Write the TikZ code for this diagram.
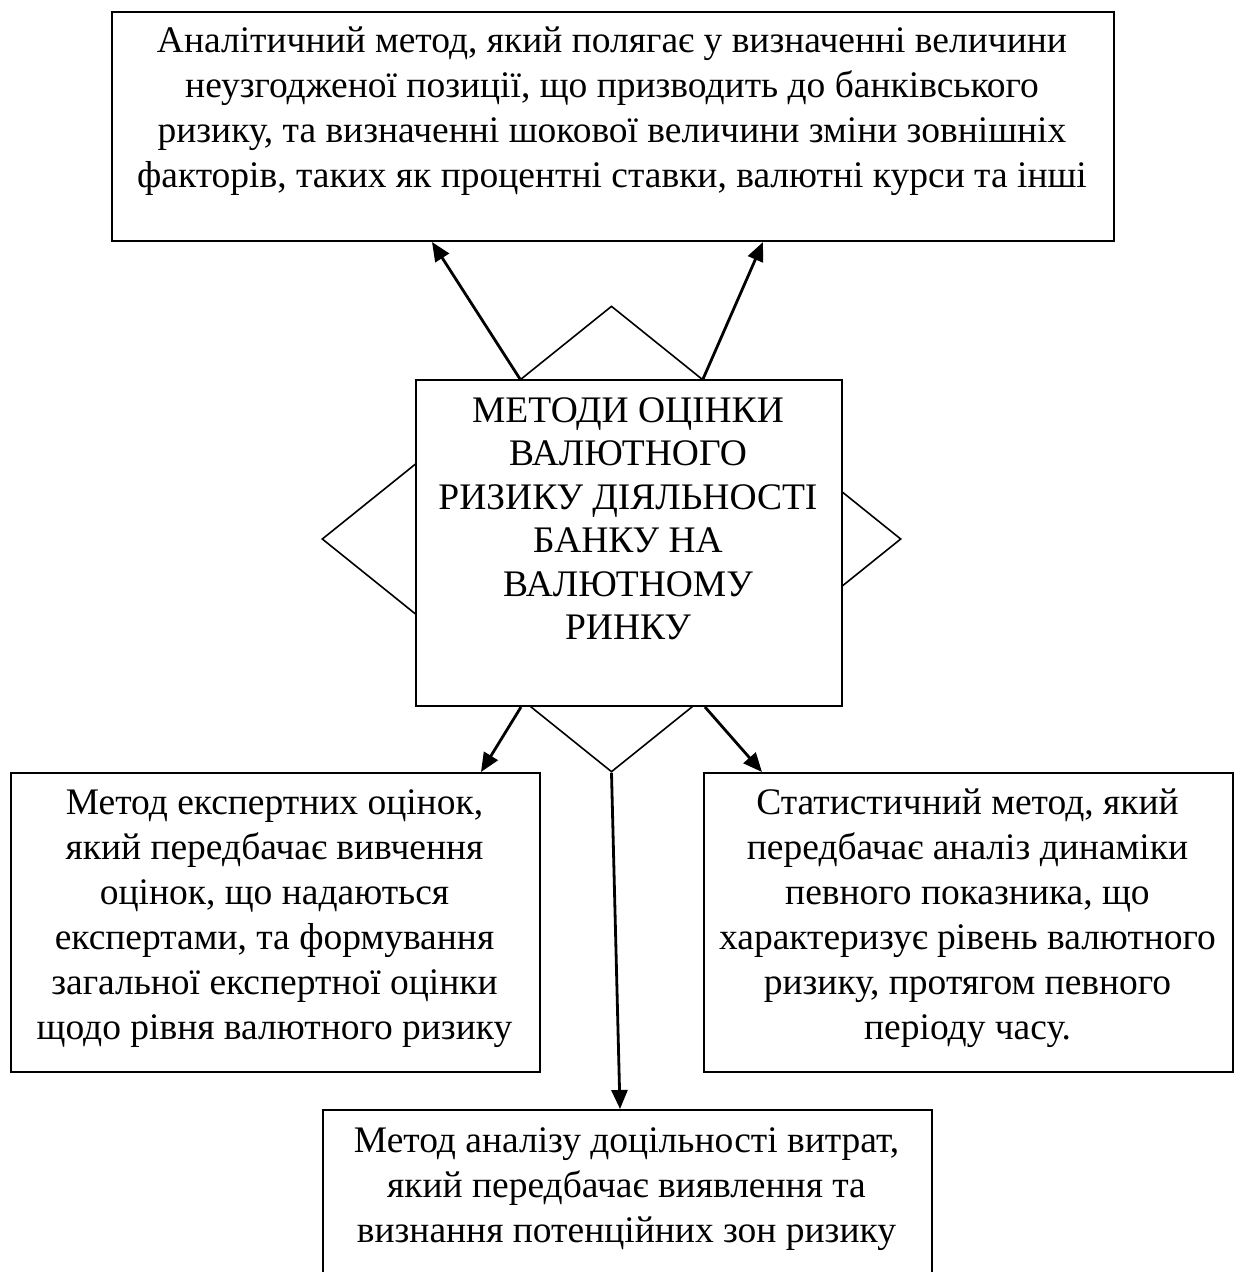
\documentclass[tikz,border=0pt]{standalone}
\usepackage{fontspec}
\setmainfont{Liberation Serif}
\usetikzlibrary{arrows.meta,shapes.geometric}
\begin{document}
\begin{tikzpicture}[x=1bp,y=-1bp,
  boxshape/.style={draw=black,line width=2bp,fill=white,inner sep=0pt,anchor=north west},
  txt/.style={align=center,inner sep=0pt,anchor=north,font=\fontsize{37.5bp}{45bp}\selectfont},
  arr/.style={line width=2.8bp,-{Triangle[length=19bp,width=16bp]}},
  dia/.style={draw=black,line width=1.6bp,diamond,inner sep=0pt}]
\useasboundingbox[fill=white] (0,0) rectangle (1245,1272);
% diamond behind the central box
\node[dia,minimum width=579bp,minimum height=466bp] (dmd) at (611.5,539) {};
% boxes
\node[boxshape,minimum width=1002bp,minimum height=229bp] (top) at (111,11) {};
\node[boxshape,minimum width=426bp,minimum height=326bp] (centre) at (415,379) {};
\node[boxshape,minimum width=529bp,minimum height=299bp] (left) at (10,772) {};
\node[boxshape,minimum width=529bp,minimum height=299bp] (right) at (703,772) {};
\node[boxshape,minimum width=609bp,minimum height=175bp] (bottom) at (322,1109) {};
% texts
\node[txt] (toptxt) at (612,27) {Аналітичний метод, який полягає у визначенні величини\\неузгодженої позиції, що призводить до банківського\\ризику, та визначенні шокової величини зміни зовнішніх\\факторів, таких як процентні ставки, валютні курси та інші};
\node[txt,font=\fontsize{37.5bp}{43.5bp}\selectfont] (centretxt) at (628,397) {МЕТОДИ ОЦІНКИ\\ВАЛЮТНОГО\\РИЗИКУ ДІЯЛЬНОСТІ\\БАНКУ НА\\ВАЛЮТНОМУ\\РИНКУ};
\node[txt] (lefttxt) at (274.5,789) {Метод експертних оцінок,\\який передбачає вивчення\\оцінок, що надаються\\експертами, та формування\\загальної експертної оцінки\\щодо рівня валютного ризику};
\node[txt] (righttxt) at (967.5,789) {Статистичний метод, який\\передбачає аналіз динаміки\\певного показника, що\\характеризує рівень валютного\\ризику, протягом певного\\періоду часу.};
\node[txt] (bottomtxt) at (626.5,1127) {Метод аналізу доцільності витрат,\\який передбачає виявлення та\\визнання потенційних зон ризику};
% connectors
\draw[arr] ([xshift=105bp]centre.north west) -- ([xshift=321bp]top.south west);
\draw[arr] ([xshift=288bp]centre.north west) -- ([xshift=652bp]top.south west);
\draw[arr] ([xshift=106bp]centre.south west) -- ([xshift=471bp]left.north west);
\draw[arr] ([xshift=290bp]centre.south west) -- ([xshift=59bp]right.north west);
\draw[arr] (dmd.south) -- ([xshift=298bp]bottom.north west);
\end{tikzpicture}
\end{document}
